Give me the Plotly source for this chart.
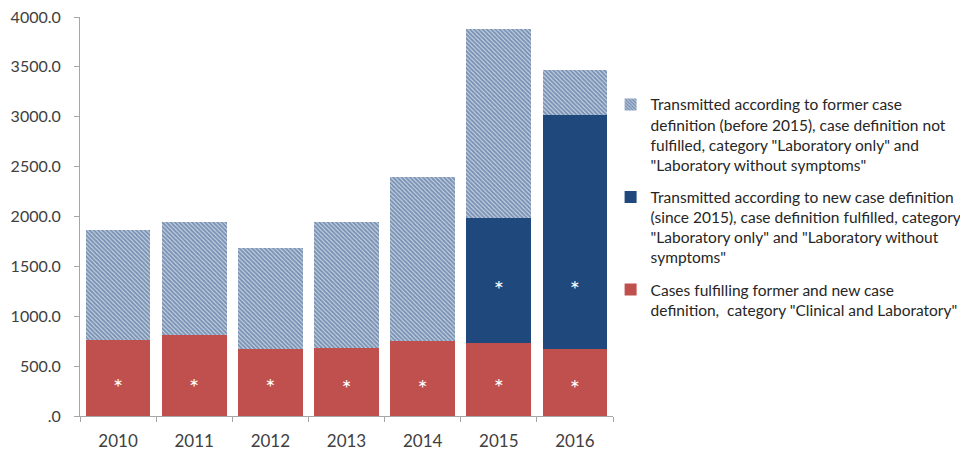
import plotly.graph_objects as go

years = ["2010", "2011", "2012", "2013", "2014", "2015", "2016"]
clinical_lab = [765, 808, 675, 682, 748, 732, 672]
new_def = [0, 0, 0, 0, 0, 1256, 2343]
former_def = [1100, 1137, 1013, 1266, 1650, 1894, 457]

star_red_years = ["2010", "2011", "2012", "2013", "2014", "2015", "2016"]
star_red_y = [265, 265, 265, 255, 255, 260, 255]
star_blue_years = ["2015", "2016"]
star_blue_y = [1245, 1245]

tick_vals = [0, 500, 1000, 1500, 2000, 2500, 3000, 3500, 4000]
tick_text = [".0", "500.0", "1000.0", "1500.0", "2000.0", "2500.0", "3000.0", "3500.0", "4000.0"]

name_former = ("Transmitted according to former case<br>definition (before 2015), case definition not<br>"
               "fulfilled, category \"Laboratory only\" and<br>\"Laboratory without symptoms\"")
name_new = ("Transmitted according to new case definition<br>(since 2015), case definition fulfilled, category<br>"
            "\"Laboratory only\" and \"Laboratory without<br>symptoms\"")
name_clin = ("Cases fulfilling former and new case<br>definition,  category \"Clinical and Laboratory\"")

RED = "#C0504D"
BLUE = "#1F497D"

fig = go.Figure()
fig.add_trace(go.Bar(x=years, y=clinical_lab, name=name_clin, marker=dict(color=RED, line_width=0),
                     legendgroup="c", legendrank=3))
fig.add_trace(go.Bar(x=years, y=new_def, name=name_new, marker=dict(color=BLUE, line_width=0),
                     legendgroup="b", legendrank=2))
fig.add_trace(go.Bar(x=years, y=former_def, name=name_former,
                     marker=dict(color="#D6DDEB", line_width=0,
                                 pattern=dict(shape="\\", fgcolor=BLUE, bgcolor="#D6DDEB",
                                              size=3, solidity=0.7, fillmode="overlay")),
                     legendgroup="a", legendrank=1))
fig.add_trace(go.Scatter(x=star_red_years, y=star_red_y, mode="text", text=["*"] * len(star_red_y),
                         textfont=dict(color="white", size=24, family="Lato"), showlegend=False,
                         hoverinfo="skip"))
fig.add_trace(go.Scatter(x=star_blue_years, y=star_blue_y, mode="text", text=["*"] * len(star_blue_y),
                         textfont=dict(color="white", size=24, family="Lato"), showlegend=False,
                         hoverinfo="skip"))

fig.update_layout(
    width=968, height=451,
    barmode="stack", bargap=0.15,
    plot_bgcolor="white", paper_bgcolor="white",
    margin=dict(l=72, r=363, t=8.5, b=42.5),
    font=dict(family="Lato", color="#404040"),
    legend=dict(x=0.9955, xanchor="left", y=0.8225, yanchor="top", traceorder="grouped",
                valign="top", font=dict(size=15.5, color="#262626", family="Lato"), tracegroupgap=9,
                bgcolor="rgba(0,0,0,0)"),
)
fig.update_xaxes(showline=True, linecolor="#A6A6A6", linewidth=1, ticks="outside", tickson="boundaries",
                 ticklen=5, tickcolor="#A6A6A6", tickfont=dict(size=17, color="#404040"), showgrid=False,
                 ticklabelstandoff=10, automargin=False)
fig.update_yaxes(range=[0, 4000], showline=True, linecolor="#A6A6A6", linewidth=1, ticks="outside",
                 ticklen=5, tickcolor="#A6A6A6", tickvals=tick_vals, ticktext=tick_text,
                 ticklabelstandoff=10, automargin=False, ticklabeloverflow="allow",
                 tickfont=dict(size=16, color="#404040"), showgrid=False, zeroline=False)

fig.write_html("out.html")
